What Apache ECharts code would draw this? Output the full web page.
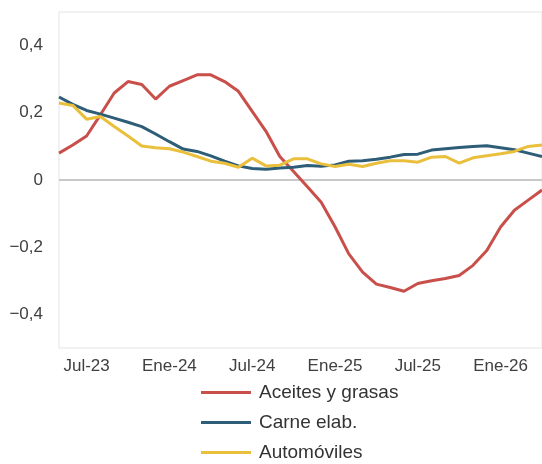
<!DOCTYPE html>
<html>
<head>
<meta charset="utf-8">
<script src="https://cdn.jsdelivr.net/npm/echarts@6/dist/echarts.min.js"></script>
<style>
  html, body { margin: 0; padding: 0; background: #ffffff; }
  #chart { width: 542px; height: 464px; }
</style>
</head>
<body>
<div id="chart"></div>
<script>
// Monthly categories, May-23 to Apr-26
const months = [
  'May-23', 'Jun-23', 'Jul-23', 'Ago-23', 'Sep-23', 'Oct-23', 'Nov-23', 'Dic-23',
  'Ene-24', 'Feb-24', 'Mar-24', 'Abr-24', 'May-24', 'Jun-24', 'Jul-24', 'Ago-24',
  'Sep-24', 'Oct-24', 'Nov-24', 'Dic-24', 'Ene-25', 'Feb-25', 'Mar-25', 'Abr-25',
  'May-25', 'Jun-25', 'Jul-25', 'Ago-25', 'Sep-25', 'Oct-25', 'Nov-25', 'Dic-25',
  'Ene-26', 'Feb-26', 'Mar-26', 'Abr-26'
];

const aceites = [
  0.080, 0.104, 0.131, 0.194, 0.259, 0.293, 0.284, 0.241,
  0.279, 0.296, 0.313, 0.313, 0.293, 0.264, 0.204, 0.145,
  0.070, 0.025, -0.020, -0.066, -0.139, -0.220, -0.274, -0.310,
  -0.320, -0.331, -0.308, -0.300, -0.293, -0.284, -0.254, -0.210,
  -0.140, -0.090, -0.060, -0.030
];

const carne = [
  0.247, 0.225, 0.207, 0.196, 0.184, 0.172, 0.159, 0.137,
  0.114, 0.092, 0.085, 0.072, 0.056, 0.042, 0.034, 0.032,
  0.036, 0.038, 0.043, 0.041, 0.045, 0.056, 0.057, 0.062,
  0.068, 0.076, 0.077, 0.089, 0.093, 0.097, 0.100, 0.102,
  0.096, 0.090, 0.080, 0.070
];

const automoviles = [
  0.229, 0.222, 0.181, 0.189, 0.159, 0.131, 0.101, 0.096,
  0.093, 0.083, 0.070, 0.056, 0.050, 0.038, 0.065, 0.042,
  0.044, 0.063, 0.063, 0.048, 0.040, 0.047, 0.040, 0.050,
  0.057, 0.057, 0.053, 0.068, 0.070, 0.050, 0.066, 0.072,
  0.078, 0.085, 0.100, 0.104
];

const seriesNames = ['Aceites y grasas', 'Carne elab.', 'Automóviles'];
const seriesColors = ['#c94f4b', '#2e5d77', '#e9bf3c'];

const FONT = '"Liberation Sans", Arial, sans-serif';

function yLabel(v) {
  const n = Math.round(v * 10);
  if (n % 2 !== 0 || Math.abs(n) >= 5) return '';
  if (n === 0) return '0';
  const s = (Math.abs(n) / 10).toFixed(1).replace('.', ',');
  return (n < 0 ? '\u2212' : '') + s;
}

function lineSeries(name, data, color, withZero) {
  const s = {
    name: name,
    type: 'line',
    data: data,
    symbol: 'none',
    showSymbol: false,
    smooth: false,
    lineStyle: { color: color, width: 3 },
    itemStyle: { color: color },
    z: 3
  };
  if (withZero) {
    s.markLine = {
      silent: true,
      symbol: 'none',
      label: { show: false },
      lineStyle: { color: '#c8c8c8', width: 2, type: 'solid' },
      data: [{ yAxis: 0 }],
      z: 1
    };
  }
  return s;
}

const chart = echarts.init(document.getElementById('chart'), null, { renderer: 'canvas' });

chart.setOption({
  animation: false,
  backgroundColor: '#ffffff',
  grid: {
    left: 59,
    top: 12,
    right: -4,
    bottom: 116,
    show: true,
    borderColor: '#e4e4e4',
    borderWidth: 1,
    backgroundColor: 'transparent'
  },
  legend: {
    orient: 'vertical',
    left: 201,
    top: 383,
    height: 120,
    padding: 0,
    icon: 'rect',
    itemWidth: 50,
    itemHeight: 3,
    itemGap: 11,
    textStyle: {
      fontFamily: FONT,
      fontSize: 19,
      lineHeight: 18,
      color: '#333333',
      padding: [0, 0, 0, 3]
    },
    data: seriesNames
  },
  xAxis: {
    type: 'category',
    data: months,
    boundaryGap: false,
    axisLine: { show: false },
    axisTick: { show: false },
    splitLine: { show: false },
    axisLabel: {
      interval: function (i) { return i % 6 === 2; },
      margin: 10,
      fontFamily: FONT,
      fontSize: 17,
      color: '#404040'
    }
  },
  yAxis: {
    type: 'value',
    min: -0.5,
    max: 0.5,
    interval: 0.1,
    axisLine: { show: false },
    axisTick: { show: false },
    splitLine: { show: false },
    axisLabel: {
      formatter: yLabel,
      margin: 16,
      fontFamily: FONT,
      fontSize: 17,
      color: '#404040'
    }
  },
  series: [
    lineSeries(seriesNames[0], aceites, seriesColors[0], true),
    lineSeries(seriesNames[1], carne, seriesColors[1], false),
    lineSeries(seriesNames[2], automoviles, seriesColors[2], false)
  ]
});
</script>
</body>
</html>
